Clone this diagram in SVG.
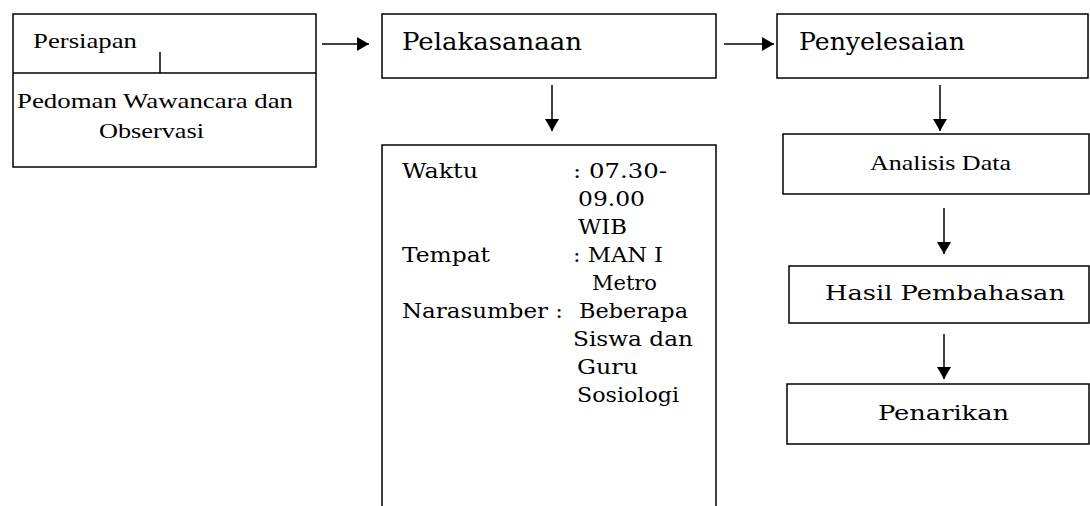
<svg xmlns="http://www.w3.org/2000/svg" width="1090" height="506" viewBox="0 0 1090 506">
<style>
.box{fill:#fff;stroke:#000;stroke-width:1.5}
.ln{stroke:#000;stroke-width:1.5;fill:none}
.tr{font-family:"Liberation Serif",serif;font-size:22px;fill:#000}
.cs{font-family:"DejaVu Serif",serif;font-size:19.5px;fill:#000}
.big{font-size:24px}
</style>
<defs>
<marker id="ah" markerWidth="12" markerHeight="14" refX="12" refY="7" orient="auto" markerUnits="userSpaceOnUse">
<path d="M0,0 L12,7 L0,14 Z" fill="#000"/>
</marker>
</defs>
<rect width="1090" height="506" fill="#fff"/>
<g id="persiapan">
<rect class="box" x="13" y="14" width="303" height="153"/>
<line class="ln" x1="13" y1="73" x2="316" y2="73"/>
<line class="ln" x1="160" y1="52" x2="160" y2="73"/>
<text class="tr" x="33" y="48" textLength="104" lengthAdjust="spacingAndGlyphs">Persiapan</text>
<text class="tr" x="17" y="108" textLength="276" lengthAdjust="spacingAndGlyphs">Pedoman Wawancara dan</text>
<text class="tr" x="99" y="138" textLength="105" lengthAdjust="spacingAndGlyphs">Observasi</text>
</g>
<g id="pelaksanaan">
<rect class="box" x="382" y="14" width="334" height="64"/>
<text class="cs big" x="402" y="50" textLength="180" lengthAdjust="spacingAndGlyphs">Pelakasanaan</text>
</g>
<g id="detail">
<rect class="box" x="382" y="145" width="334" height="370"/>
<text class="cs" x="402" y="178" textLength="76" lengthAdjust="spacingAndGlyphs">Waktu</text>
<text class="cs" x="573" y="178" textLength="94" lengthAdjust="spacingAndGlyphs">: 07.30-</text>
<text class="cs" x="578" y="206" textLength="67" lengthAdjust="spacingAndGlyphs">09.00</text>
<text class="cs" x="578" y="234" textLength="49" lengthAdjust="spacingAndGlyphs">WIB</text>
<text class="cs" x="402" y="262" textLength="88" lengthAdjust="spacingAndGlyphs">Tempat</text>
<text class="cs" x="573" y="262" textLength="90" lengthAdjust="spacingAndGlyphs">: MAN I</text>
<text class="cs" x="592" y="290" textLength="65" lengthAdjust="spacingAndGlyphs">Metro</text>
<text class="cs" x="402" y="318" textLength="161" lengthAdjust="spacingAndGlyphs">Narasumber :</text>
<text class="cs" x="579" y="318" textLength="109" lengthAdjust="spacingAndGlyphs">Beberapa</text>
<text class="cs" x="573" y="346" textLength="120" lengthAdjust="spacingAndGlyphs">Siswa dan</text>
<text class="cs" x="577" y="374" textLength="61" lengthAdjust="spacingAndGlyphs">Guru</text>
<text class="cs" x="577" y="402" textLength="102" lengthAdjust="spacingAndGlyphs">Sosiologi</text>
</g>
<g id="penyelesaian">
<rect class="box" x="777" y="14" width="311" height="64"/>
<text class="cs big" x="799" y="50" textLength="166" lengthAdjust="spacingAndGlyphs">Penyelesaian</text>
</g>
<g id="analisis">
<rect class="box" x="783" y="134" width="306" height="60"/>
<text class="tr" x="870" y="170" textLength="141" lengthAdjust="spacingAndGlyphs">Analisis Data</text>
</g>
<g id="hasil">
<rect class="box" x="789" y="266" width="300" height="57"/>
<text class="cs" x="825" y="300" font-size="22" textLength="240" lengthAdjust="spacingAndGlyphs">Hasil Pembahasan</text>
</g>
<g id="penarikan">
<rect class="box" x="787" y="384" width="302" height="60"/>
<text class="cs" x="878" y="420" font-size="23" textLength="131" lengthAdjust="spacingAndGlyphs">Penarikan</text>
</g>
<g id="connectors">
<line class="ln" x1="322" y1="44" x2="369" y2="44" marker-end="url(#ah)"/>
<line class="ln" x1="724" y1="44" x2="774" y2="44" marker-end="url(#ah)"/>
<line class="ln" x1="552" y1="85" x2="552" y2="131" marker-end="url(#ah)"/>
<line class="ln" x1="940" y1="85" x2="940" y2="131" marker-end="url(#ah)"/>
<line class="ln" x1="944" y1="208" x2="944" y2="254" marker-end="url(#ah)"/>
<line class="ln" x1="944" y1="334" x2="944" y2="379" marker-end="url(#ah)"/>
</g>
</svg>
